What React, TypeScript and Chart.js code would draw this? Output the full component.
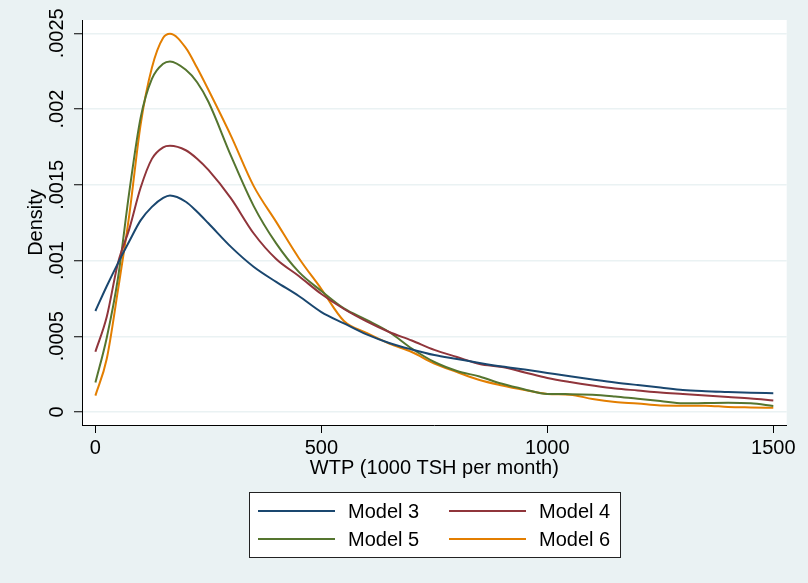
import React, { useEffect, useRef } from "react";
import { Chart, registerables } from "chart.js";

Chart.register(...registerables);

// ---- Data ----
const xValues = [0, 25, 50, 75, 100, 125, 150, 165, 200, 225, 250, 300, 350, 400, 450, 500, 550, 600, 650, 700, 750, 800, 850, 900, 950, 1000, 1050, 1100, 1150, 1200, 1250, 1300, 1350, 1400, 1450, 1500];

const model3 = [0.000667, 0.00083, 0.000983, 0.001127, 0.001265, 0.001354, 0.001413, 0.001429, 0.001388, 0.001322, 0.001246, 0.00109, 0.000959, 0.000859, 0.000766, 0.00066, 0.000585, 0.000512, 0.000456, 0.000413, 0.000376, 0.00035, 0.000324, 0.0003, 0.00028, 0.000258, 0.000236, 0.000215, 0.000195, 0.000178, 0.000162, 0.000145, 0.000137, 0.000132, 0.000127, 0.000124];

const model4 = [0.000398, 0.000627, 0.000984, 0.001209, 0.00148, 0.001671, 0.001747, 0.001757, 0.001728, 0.001672, 0.001598, 0.00141, 0.00118, 0.00101, 0.000898, 0.000779, 0.00068, 0.000598, 0.000528, 0.000472, 0.00041, 0.000363, 0.000317, 0.000297, 0.000261, 0.000225, 0.000198, 0.000175, 0.000155, 0.000142, 0.000129, 0.000119, 0.000109, 0.000099, 0.000089, 0.000076];

const model5 = [0.000194, 0.000489, 0.000885, 0.001453, 0.001942, 0.002199, 0.002299, 0.002314, 0.002259, 0.002177, 0.002048, 0.001691, 0.001361, 0.001113, 0.000925, 0.000799, 0.000684, 0.000608, 0.000528, 0.000419, 0.00033, 0.000271, 0.000234, 0.000186, 0.000149, 0.000119, 0.000118, 0.000114, 0.000102, 0.000087, 0.000073, 0.000057, 0.000059, 0.000061, 0.000057, 0.00004];

const model6 = [0.000108, 0.00035, 0.000806, 0.001301, 0.001896, 0.002272, 0.00247, 0.002497, 0.002404, 0.002272, 0.002127, 0.001823, 0.001493, 0.001255, 0.001017, 0.000812, 0.000601, 0.000522, 0.000452, 0.000396, 0.00032, 0.000264, 0.000211, 0.000175, 0.000145, 0.000119, 0.000114, 0.000086, 0.000066, 0.000056, 0.000043, 0.000042, 0.000042, 0.000033, 0.00003, 0.000028];

const seriesLabels = ["Model 3", "Model 4", "Model 5", "Model 6"];
const seriesColors = ["#1A476F", "#90353B", "#55752F", "#E37E00"];

const xTicks = [0, 500, 1000, 1500];
const yTicks = [0, 0.0005, 0.001, 0.0015, 0.002, 0.0025];
const yTickLabels = ["0", ".0005", ".001", ".0015", ".002", ".0025"];

const xTitle = "WTP (1000 TSH per month)";
const yTitle = "Density";

const FONT_FAMILY = "'Liberation Sans', Arial, Helvetica, sans-serif";
const FONT_SIZE = 20;
const BG = "#EAF2F3";

const backgroundPlugin = {
  id: "bgPlugin",
  beforeDraw(chart: any) {
    const { ctx, chartArea } = chart;
    ctx.save();
    ctx.fillStyle = BG;
    ctx.fillRect(0, 0, chart.width, chart.height);
    ctx.fillStyle = "#FFFFFF";
    ctx.fillRect(chartArea.left, chartArea.top, chartArea.right - chartArea.left, chartArea.bottom - chartArea.top);
    ctx.restore();
  },
};

const yLabelPlugin = {
  id: "yLabelPlugin",
  afterDraw(chart: any) {
    const { ctx } = chart;
    const scale = chart.scales.y;
    ctx.save();
    ctx.fillStyle = "#000";
    ctx.font = `${FONT_SIZE}px ${FONT_FAMILY}`;
    ctx.textAlign = "center";
    ctx.textBaseline = "middle";
    const cx = scale.right - 8 - 16.5;
    yTicks.forEach((v, i) => {
      const py = scale.getPixelForValue(v);
      ctx.save();
      ctx.translate(cx, py);
      ctx.rotate(-Math.PI / 2);
      ctx.fillText(yTickLabels[i], 0, 0);
      ctx.restore();
    });
    ctx.restore();
  },
};

const legendPlugin = {
  id: "boxLegend",
  afterDraw(chart: any) {
    const { ctx, chartArea } = chart;
    const boxW = 371;
    const boxH = 65;
    const left = Math.round((chartArea.left + chartArea.right) / 2 - boxW / 2);
    const top = Math.round(chartArea.bottom + 67);
    ctx.save();
    ctx.fillStyle = "#FFFFFF";
    ctx.fillRect(left, top, boxW, boxH);
    ctx.strokeStyle = "#222";
    ctx.lineWidth = 1;
    ctx.strokeRect(left + 0.5, top + 0.5, boxW, boxH);
    ctx.font = `${FONT_SIZE}px ${FONT_FAMILY}`;
    ctx.textAlign = "left";
    ctx.textBaseline = "middle";
    chart.data.datasets.forEach((ds: any, i: number) => {
      const col = i % 2;
      const row = Math.floor(i / 2);
      const lx = left + 9 + col * 191;
      const ly = top + 19 + row * 28;
      ctx.strokeStyle = ds.borderColor;
      ctx.lineWidth = 2;
      ctx.beginPath();
      ctx.moveTo(lx, ly);
      ctx.lineTo(lx + 77, ly);
      ctx.stroke();
      ctx.fillStyle = "#000";
      ctx.fillText(ds.label, lx + 90, ly + 1);
    });
    ctx.restore();
  },
};

export default function App() {
  const canvasRef = useRef<HTMLCanvasElement | null>(null);

  useEffect(() => {
    if (!canvasRef.current) return;
    const seriesValues = [model3, model4, model5, model6];
    const font = { family: FONT_FAMILY, size: FONT_SIZE };
    const chart = new Chart(canvasRef.current, {
      type: "line",
      data: {
        datasets: seriesValues.map((vals, i) => ({
          label: seriesLabels[i],
          data: xValues.map((x, j) => ({ x, y: vals[j] })),
          borderColor: seriesColors[i],
          backgroundColor: seriesColors[i],
          borderWidth: 2,
          pointRadius: 0,
          fill: false,
          cubicInterpolationMode: "monotone" as const,
        })),
      },
      options: {
        responsive: false,
        animation: false,
        layout: { padding: { left: 0, right: 21.3, top: 20, bottom: 103 } },
        plugins: {
          legend: { display: false },
          tooltip: { enabled: false },
        },
        scales: {
          x: {
            type: "linear",
            min: -29.65,
            max: 1529.65,
            afterBuildTicks: (s: any) => {
              s.ticks = xTicks.map((v) => ({ value: v }));
            },
            afterFit: (s: any) => {
              s.height = 55;
            },
            grid: { drawOnChartArea: false, drawTicks: true, tickLength: 8, tickColor: "#000", tickWidth: 1 },
            border: { display: true, color: "#000", width: 1 },
            ticks: {
              font,
              color: "#000",
              padding: 3,
              maxRotation: 0,
              autoSkip: false,
              callback: (v: any) => String(v),
            },
            title: { display: true, text: xTitle, font, color: "#000", padding: { top: 0, bottom: 0 } },
          },
          y: {
            type: "linear",
            min: -0.0000858,
            max: 0.0025878,
            afterBuildTicks: (s: any) => {
              s.ticks = yTicks.map((v) => ({ value: v }));
            },
            afterFit: (s: any) => {
              s.width = 82;
            },
            grid: { color: BG, lineWidth: 1.5, drawTicks: true, tickLength: 8, tickColor: "#000", tickWidth: 1 },
            border: { display: true, color: "#000", width: 1 },
            ticks: { display: false },
            title: { display: true, text: yTitle, font, color: "#000", padding: { top: 24, bottom: 0 } },
          },
        },
      },
      plugins: [backgroundPlugin, yLabelPlugin, legendPlugin],
    });
    return () => chart.destroy();
  }, []);

  return (
    <canvas
      ref={canvasRef}
      width={808}
      height={583}
      style={{ position: "absolute", left: 0, top: 0, display: "block" }}
    />
  );
}
